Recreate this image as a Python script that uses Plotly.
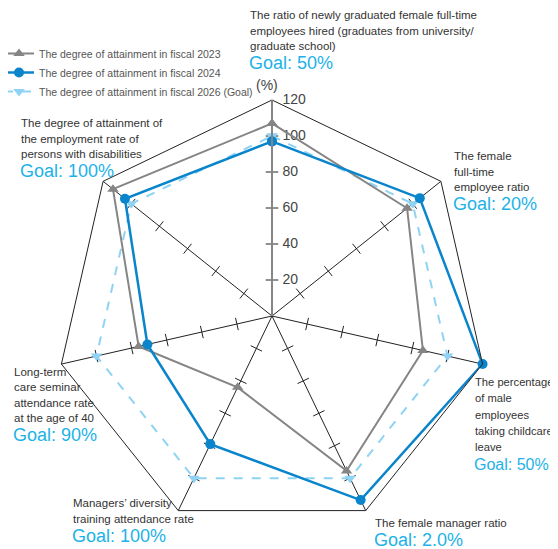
import plotly.graph_objects as go

# axis categories, clockwise from the top
categories = [
    "Newly graduated female hires",
    "Female full-time employee ratio",
    "Male childcare leave",
    "Female manager ratio",
    "Managers' diversity training",
    "Long-term care seminar",
    "Employment of persons with disabilities",
]
fy2023 = [107, 96, 86, 95.5, 44, 76, 113]
fy2024 = [97, 105, 120, 113.5, 79, 71, 104.5]
goal2026 = [100, 100, 100, 100, 100, 100, 100]
tick_vals = [20, 40, 60, 80, 100, 120]
tick_text = ["20", "40", "60", "80", "100", "120"]

series_names = [
    "The degree of attainment in fiscal 2023",
    "The degree of attainment in fiscal 2024",
    "The degree of attainment in fiscal 2026 (Goal)",
]

# label blocks: (lines, goal text)
label_lines = [
    ["The ratio of newly graduated female full-time",
     "employees hired (graduates from university/",
     "graduate school)"],
    ["The female", "full-time", "employee ratio"],
    ["The percentage", "of male", "employees", "taking childcare", "leave"],
    ["The female manager ratio"],
    ["Managers\u2019 diversity", "training attendance rate"],
    ["Long-term", "care seminar", "attendance rate", "at the age of 40"],
    ["The degree of attainment of", "the employment rate of",
     "persons with disabilities"],
]
goal_labels = ["Goal: 50%", "Goal: 20%", "Goal: 50%", "Goal: 2.0%",
               "Goal: 100%", "Goal: 90%", "Goal: 100%"]

GRAY = "#858585"
BLUE = "#0a85cc"
LIGHT = "#8fd3f4"
CYAN = "#1cb2e8"
FONT = "Liberation Sans, Arial, sans-serif"

# the page body adds an 8px offset, so screen positions are shifted by OFF
OFF = 8
W, H = 558, 549
L, T, SIDE = 56 - OFF, 100 - OFF, 432
R, B = W - L - SIDE, H - T - SIDE


def px(x):
    return (x - OFF - L) / SIDE


def py(y):
    return (T + SIDE - (y - OFF)) / SIDE


def closed(v):
    return list(v) + [v[0]]


theta = closed(categories)

fig = go.Figure()

# spoke tick marks
n = len(categories)
tr, tt, ta = [], [], []
for k, c in enumerate(categories):
    for v in tick_vals[:-1]:
        tr.append(v)
        tt.append(c)
        ta.append(k * 360 / n)
fig.add_trace(go.Scatterpolar(
    r=tr, theta=tt, mode="markers", showlegend=False, hoverinfo="skip",
    marker=dict(symbol="line-ew", size=9, angle=ta,
                line=dict(color="#222", width=1)),
))

# radial tick labels on the top spoke
fig.add_trace(go.Scatterpolar(
    r=tick_vals, theta=[categories[0]] * len(tick_vals), mode="markers+text",
    text=tick_text, textposition="middle right", showlegend=False,
    hoverinfo="skip", marker=dict(size=15, color="rgba(0,0,0,0)"),
    textfont=dict(family=FONT, size=14, color="#444"),
))

fig.add_trace(go.Scatterpolar(
    r=closed(goal2026), theta=theta, mode="lines+markers", name=series_names[2],
    legendrank=3,
    line=dict(color=LIGHT, width=2, dash="dash"),
    marker=dict(symbol="triangle-down", size=10, color=LIGHT),
))
fig.add_trace(go.Scatterpolar(
    r=closed(fy2023), theta=theta, mode="lines+markers", name=series_names[0],
    legendrank=1,
    line=dict(color=GRAY, width=2),
    marker=dict(symbol="triangle-up", size=10, color=GRAY),
))
fig.add_trace(go.Scatterpolar(
    r=closed(fy2024), theta=theta, mode="lines+markers", name=series_names[1],
    legendrank=2,
    line=dict(color=BLUE, width=2.5),
    marker=dict(symbol="circle", size=10, color=BLUE),
))

annotations = []


def add_block(lines, goal, x, y0, step=15.5, size=11.5, gsize=18, goal_gap=17):
    for i, s in enumerate(lines):
        annotations.append(dict(
            text=s, x=px(x), y=py(y0 + i * step), xref="paper", yref="paper",
            xanchor="left", yanchor="middle", showarrow=False,
            font=dict(family=FONT, size=size, color="#333"),
        ))
    annotations.append(dict(
        text=goal, x=px(x - 1), y=py(y0 + (len(lines) - 1) * step + goal_gap),
        xref="paper", yref="paper", xanchor="left", yanchor="middle",
        showarrow=False,
        font=dict(family=FONT, size=gsize, color=CYAN),
    ))


# positions of the label blocks (px): x, first line y, line step, font, goal font
block_pos = [(248, 15, 15.5, 11.5, 18), (452, 156, 15.5, 11.5, 18),
             (473, 382, 16.3, 11.2, 16), (373, 523, 15.5, 11.5, 18),
             (71, 503, 16, 11.5, 18), (12, 372, 15.3, 11.5, 18),
             (19, 123, 15.5, 11.5, 18)]
for (x, y0, st, fs, gs), lines, goal in zip(block_pos, label_lines, goal_labels):
    add_block(lines, goal, x, y0, st, fs, gs)

annotations.append(dict(
    text="(%)", x=px(267), y=py(85), xref="paper", yref="paper",
    xanchor="center", yanchor="middle", showarrow=False,
    font=dict(family=FONT, size=14, color="#444"),
))

fig.update_layout(
    width=W, height=H,
    margin=dict(l=L, r=R, t=T, b=B, autoexpand=False),
    paper_bgcolor="white",
    font=dict(family=FONT, size=13, color="#444"),
    showlegend=True,
    legend=dict(x=px(-1), y=py(39), xanchor="left", yanchor="top",
                font=dict(family=FONT, size=10.5, color="#555"),
                bgcolor="rgba(0,0,0,0)", tracegroupgap=0, itemwidth=30),
    annotations=annotations,
    polar=dict(
        domain=dict(x=[0, 1], y=[0, 1]),
        bgcolor="white",
        gridshape="linear",
        radialaxis=dict(
            range=[0, 120], angle=90,
            tickvals=tick_vals, showticklabels=False, ticks="",
            showgrid=False, showline=True, linecolor=GRAY, linewidth=2,
        ),
        angularaxis=dict(
            rotation=90, direction="clockwise",
            showticklabels=False, ticks="",
            showgrid=True, gridcolor="#222", gridwidth=1,
            showline=True, linecolor="#222", linewidth=1,
        ),
    ),
)

fig.write_html("out.html")
